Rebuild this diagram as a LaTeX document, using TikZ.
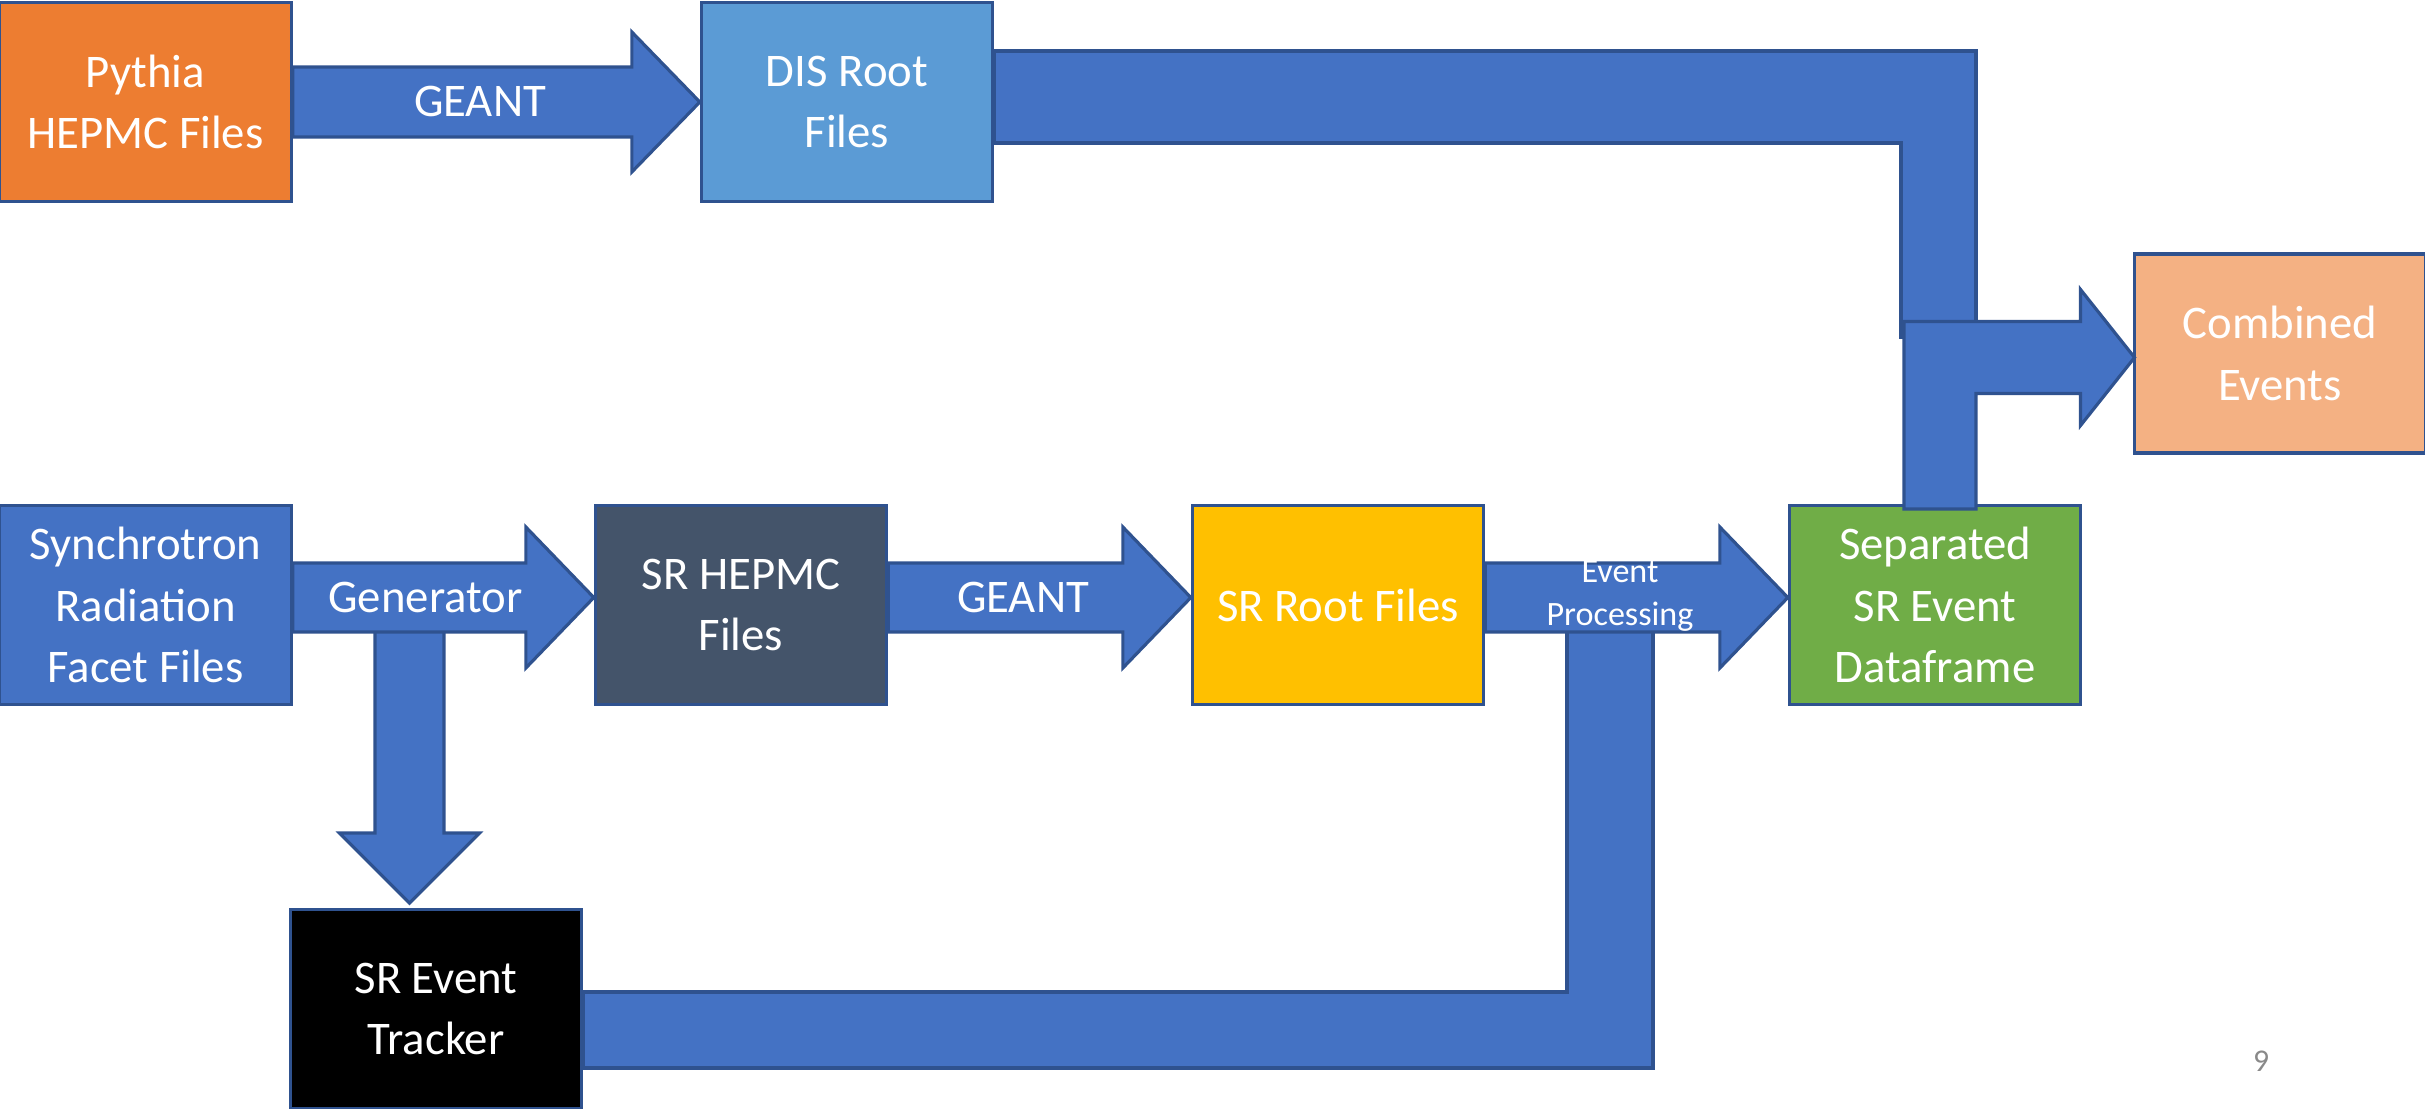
\documentclass[tikz,border=0pt]{standalone}
\usepackage{fontspec}
\setmainfont{Carlito}
\usetikzlibrary{calc}
\definecolor{cblue}{HTML}{4472C4}
\definecolor{cborder}{HTML}{2F528F}
\definecolor{corange}{HTML}{ED7D31}
\definecolor{clblue}{HTML}{5B9BD5}
\definecolor{cpeach}{HTML}{F4B183}
\definecolor{cslate}{HTML}{44546A}
\definecolor{cgold}{HTML}{FFC000}
\definecolor{cgreen}{HTML}{70AD47}
\definecolor{cgray}{HTML}{898989}
\begin{document}
\begin{tikzpicture}[x=0.01cm,y=-0.01cm,
  box/.style={draw=cborder,line width=0.9pt,minimum width=2.91cm,minimum height=1.99cm,inner sep=0pt,text=white,align=center,font=\fontsize{13.3}{17.5}\selectfont},
  conn/.style={fill=cblue,draw=cborder,line width=0.9pt,line join=miter},
  lbl/.style={text=white,font=\fontsize{13.3}{17.5}\selectfont,inner sep=0pt,align=center}]
\useasboundingbox (0,0) rectangle (2425,1108);

% boxes
\node[box,fill=corange] (pythia) at (145.5,102) {Pythia\\HEPMC Files};
\node[box,fill=clblue] (dis) at (847,102) {DIS Root\\Files};
\node[box,fill=cpeach] (comb) at (2280,353.5) {Combined\\Events};
\node[box,fill=cblue] (sync) at (145.5,605) {Synchrotron\\Radiation\\Facet Files};
\node[box,fill=cslate] (hepmc) at (741,605) {SR HEPMC\\Files};
\node[box,fill=cgold] (root) at (1338,605) {SR Root Files};
\node[box,fill=cgreen] (sep) at (1935,605) {Separated\\SR Event\\Dataframe};
\node[box,fill=black] (track) at (436,1009) {SR Event\\Tracker};

% free ends
\coordinate (dturnL) at (1901,337);
\coordinate (dturnR) at (1976,337);
\coordinate (cbl) at (1904,509);
\coordinate (cbr) at (1976,509);
\coordinate (ct) at (2134.5,357.5);
\coordinate (gd) at (409.5,620);
\coordinate (gtip) at (409.5,903);
\coordinate (ls) at (1610,620);

% DIS -> combined (bent band)
\draw[conn] ($(dis.east)+(0,-51)$) -- ($(dturnR |- dis.east)+(0,-51)$) -- (dturnR) -- (dturnL) -- ($(dturnL |- dis.east)+(0,41)$) -- ($(dis.east)+(0,41)$) -- cycle;

% separated -> combined
\draw[conn] (cbl) -- ($(cbl |- ct)+(0,-36)$) -- ($(ct)+(-54,-36)$) -- ($(ct)+(-54,-68)$) -- (ct) -- ($(ct)+(-54,68)$) -- ($(ct)+(-54,36)$) -- ($(cbr |- ct)+(0,36)$) -- (cbr) -- cycle;

% pythia -> DIS
\draw[conn] ($(pythia.east)+(0,-35)$) -- ($(dis.west)+(-68,-35)$) -- ($(dis.west)+(-68,-70)$) -- (dis.west) -- ($(dis.west)+(-68,70)$) -- ($(dis.west)+(-68,35)$) -- ($(pythia.east)+(0,35)$) -- cycle;

% generator -> tracker (down)
\draw[conn] ($(gd)+(-34.5,0)$) -- ($(gtip)+(-34.5,-70)$) -- ($(gtip)+(-70,-70)$) -- (gtip) -- ($(gtip)+(70,-70)$) -- ($(gtip)+(34.5,-70)$) -- ($(gd)+(34.5,0)$) -- cycle;

% sync -> hepmc
\draw[conn] ($(sync.east)+(0,-42)$) -- ($(hepmc.west)+(-68,-42)$) -- ($(hepmc.west)+(-68,-78)$) -- ($(hepmc.west)+(0,-7.5)$) -- ($(hepmc.west)+(-68,63)$) -- ($(hepmc.west)+(-68,27)$) -- ($(sync.east)+(0,27)$) -- cycle;

% hepmc -> root
\draw[conn] ($(hepmc.east)+(0,-42)$) -- ($(root.west)+(-68,-42)$) -- ($(root.west)+(-68,-78)$) -- ($(root.west)+(0,-7.5)$) -- ($(root.west)+(-68,63)$) -- ($(root.west)+(-68,27)$) -- ($(hepmc.east)+(0,27)$) -- cycle;

% loop back to tracker
\draw[conn] ($(ls)+(-43,0)$) -- ($(ls)+(-43,372)$) -- ($(track.east)+(0,-17)$) -- ($(track.east)+(0,59)$) -- ($(ls)+(43,448)$) -- ($(ls)+(43,0)$) -- cycle;

% root -> separated
\draw[conn] ($(root.east)+(0,-42)$) -- ($(sep.west)+(-68,-42)$) -- ($(sep.west)+(-68,-78)$) -- ($(sep.west)+(0,-7.5)$) -- ($(sep.west)+(-68,63)$) -- ($(sep.west)+(-68,27)$) -- ($(root.east)+(0,27)$) -- cycle;

% labels
\node[lbl] (lgeant1) at (480,101) {GEANT};
\node[lbl] (lgen) at (425.5,597) {Generator};
\node[lbl] (lgeant2) at (1023,597) {GEANT};
\node[lbl,font=\fontsize{9.7}{12}\selectfont] (levt) at (1620,596) {Event\\Processing};
\node[text=cgray,font=\fontsize{9}{11}\selectfont,inner sep=0pt] (pg) at (2261,1061) {9};
\end{tikzpicture}
\end{document}
